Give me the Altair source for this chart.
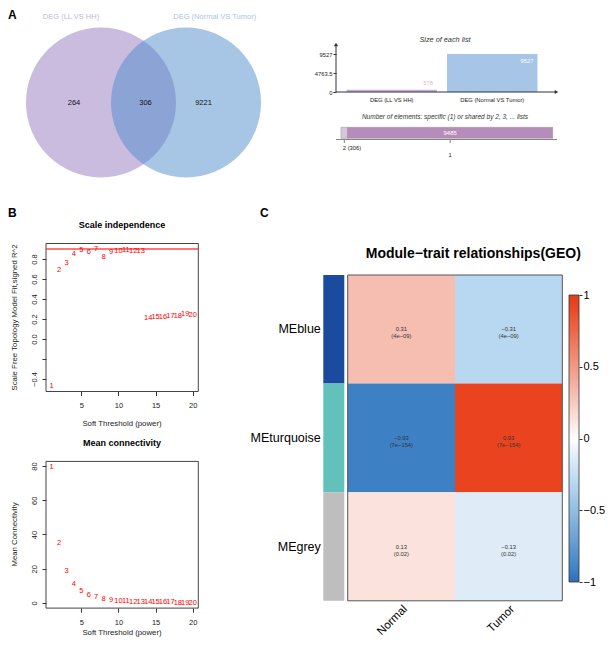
import altair as alt
import pandas as pd

FONT = "Liberation Sans"
M = 8  # page margin: reference pixel -> chart pixel
W, H = 597, 630


def px(v):
    return v - M


# ---------------- data ----------------
venn_sets = ["DEG (LL VS HH)", "DEG (Normal VS Tumor)"]
venn_regions = ["LL VS HH only", "both", "Normal VS Tumor only"]
venn_counts = [264, 306, 9221]
list_sizes = [578, 9527]
shared_levels = ["2", "1"]
shared_counts = [306, 9485]
shared_tick_labels = ["2 (306)", "1"]

powers = list(range(1, 21))
sft_r2 = [-0.47, 0.69, 0.76, 0.85, 0.89, 0.87, 0.90, 0.82, 0.87, 0.88,
          0.89, 0.88, 0.88, 0.215, 0.22, 0.22, 0.225, 0.23, 0.245, 0.24]
mean_k = [79.5, 35.2, 18.8, 11.0, 7.2, 4.9, 3.7, 2.5, 1.6, 1.2,
          1.0, 0.8, 0.6, 0.5, 0.4, 0.35, 0.3, 0.25, 0.2, 0.2]
r2_cut = 0.9

modules = ["MEblue", "MEturquoise", "MEgrey"]
module_colors = ["#1B4B9E", "#62C1BA", "#BEBEBE"]
traits = ["Normal", "Tumor"]
cor_normal = [0.31, -0.93, 0.13]
cor_tumor = [-0.31, 0.93, -0.13]
pval_normal = ["4e\u221209", "7e\u2212154", "0.02"]
pval_tumor = ["4e\u221209", "7e\u2212154", "0.02"]

# ---------------- styles / layout ----------------
venn_fill = ["#9379BD", "#4F8BCB"]
venn_title_colors = ["#C4B6DD", "#A9C4E6"]
bar_fill = ["#C3AEDD", "#A7C5E6"]
bar_label_colors = ["#C7B9E2", "#FFFFFF"]
shared_fill = ["#D9C6DD", "#B68DBA"]
cor_stops = [-1, -0.93, -0.31, -0.13, 0, 0.13, 0.31, 0.93, 1]
cor_colors = ["#2F6DB5", "#3D80C4", "#B8D8F1", "#DFECF8", "#FFFFFF",
              "#FBE2DC", "#F6BEB1", "#E9441F", "#E53A17"]
# venn geometry in radius units
venn_cx = [0.0, 85 / 75]
venn_label_x = [-0.36, 0.593, 1.367]
venn_title_x = [-0.40, 1.516]
venn_title_y = 1.14

ONE = pd.DataFrame({"_": [0]})


def note(text, x, y, size=8, weight="normal", color="black", angle=0,
         align="center", baseline="middle", style="normal"):
    return alt.Chart(ONE).mark_text(
        text=text, font=FONT, fontSize=size, fontWeight=weight, fontStyle=style,
        color=color, angle=angle, align=align, baseline=baseline
    ).encode(x=alt.value(px(x)), y=alt.value(px(y)))


def line(x1, y1, x2, y2, color="#333", width=1.0):
    return alt.Chart(ONE).mark_rule(color=color, strokeWidth=width).encode(
        x=alt.value(px(x1)), x2=alt.value(px(x2)),
        y=alt.value(px(y1)), y2=alt.value(px(y2)))


def arrow(x, y, shape):
    return alt.Chart(ONE).mark_point(shape=shape, filled=True, size=18,
                                     color="#333", opacity=1).encode(
        x=alt.value(px(x)), y=alt.value(px(y)))


def qscale(domain, r0, r1):
    return alt.Scale(domain=domain, range=[px(r0), px(r1)], nice=False, zero=False)


def r_domain(vals):
    lo, hi = min(vals), max(vals)
    d = (hi - lo) * 0.04
    return [lo - d, hi + d]


layers = []

# ---------------- panel letters ----------------
layers += [note("A", 8, 10, 12, "bold", align="left", baseline="top"),
           note("B", 8, 212.5, 12, "bold", align="left"),
           note("C", 260, 212.5, 12, "bold", align="left")]

# ---------------- A: Venn ----------------
vx = qscale([-1, 1], 26, 176)
vy = qscale([-1, 1], 177.5, 27.5)
venn_df = pd.DataFrame({"set": venn_sets, "cx": venn_cx, "cy": [0, 0]})
layers.append(alt.Chart(venn_df).mark_point(
    shape="circle", filled=True, size=150 ** 2, opacity=0.5, strokeWidth=0
).encode(
    x=alt.X("cx:Q", scale=vx, axis=None),
    y=alt.Y("cy:Q", scale=vy, axis=None),
    color=alt.Color("set:N", scale=alt.Scale(domain=venn_sets, range=venn_fill), legend=None),
))
vlab_df = pd.DataFrame({"region": venn_regions, "n": venn_counts,
                        "lx": venn_label_x, "ly": [0, 0, 0]})
layers.append(alt.Chart(vlab_df).mark_text(font=FONT, fontSize=7.5, color="#111").encode(
    x=alt.X("lx:Q", scale=vx, axis=None),
    y=alt.Y("ly:Q", scale=vy, axis=None),
    text="n:Q"))
vt_df = pd.DataFrame({"set": venn_sets, "tx": venn_title_x,
                      "ty": [venn_title_y, venn_title_y]})
layers.append(alt.Chart(vt_df).mark_text(font=FONT, fontSize=7.5).encode(
    x=alt.X("tx:Q", scale=vx, axis=None),
    y=alt.Y("ty:Q", scale=vy, axis=None),
    text="set:N",
    color=alt.Color("set:N", scale=alt.Scale(domain=venn_sets, range=venn_title_colors), legend=None)))

# ---------------- A: size of each list ----------------
sx = alt.Scale(type="band", domain=venn_sets, range=[px(341.5), px(542.5)],
               paddingInner=0.1, paddingOuter=0.05)
sy = alt.Scale(domain=[0, max(list_sizes)], range=[px(92), px(54)], nice=False, zero=True)
size_df = pd.DataFrame({"list": venn_sets, "size": list_sizes})
layers.append(alt.Chart(size_df).mark_bar().encode(
    x=alt.X("list:N", scale=sx, axis=alt.Axis(
        orient="bottom", offset=px(92) - H, ticks=False, domain=False, labelAngle=0,
        labelFont=FONT, labelFontSize=5.8, labelPadding=4, labelColor="#222", title=None)),
    y=alt.Y("size:Q", scale=sy, axis=alt.Axis(
        orient="left", offset=-px(336), values=[0, max(list_sizes) / 2, max(list_sizes)],
        labelExpr="format(datum.value, '.6~g')", tickSize=3, tickColor="#333",
        domain=False, grid=False,
        labelFont=FONT, labelFontSize=5.8, labelPadding=1, labelColor="#222", title=None)),
    y2=alt.Y2Datum(0),
    color=alt.Color("list:N", scale=alt.Scale(domain=venn_sets, range=bar_fill), legend=None),
))
for cond, dy in [("datum.size > 2000", 7), ("datum.size <= 2000", -7)]:
    layers.append(alt.Chart(size_df).transform_filter(cond).mark_text(
        font=FONT, fontSize=5.8, align="right", dx=-4, dy=dy).encode(
        x=alt.X("list:N", scale=sx, axis=None, bandPosition=1),
        y=alt.Y("size:Q", scale=sy, axis=None),
        text="size:Q",
        color=alt.Color("list:N", scale=alt.Scale(domain=venn_sets, range=bar_label_colors),
                        legend=None)))
layers += [line(336, 92, 336, 45), line(336, 92, 555, 92),
           arrow(336, 44.5, "triangle-up"), arrow(556.5, 92, "triangle-right"),
           note("Size of each list", 445, 39.5, 7.3, style="italic", color="#333")]

# ---------------- A: elements shared ----------------
elem_df = pd.DataFrame({"shared": shared_levels, "count": shared_counts,
                        "tick": shared_tick_labels, "row": "elements"})
elem_df["end"] = elem_df["count"].cumsum()
elem_df["start"] = elem_df["end"] - elem_df["count"]
elem_df["mid"] = (elem_df["start"] + elem_df["end"]) / 2
ex = qscale([0, sum(shared_counts)], 341, 552.7)
ey = alt.Scale(type="band", domain=["elements"], range=[px(127.3), px(138.3)],
               paddingInner=0, paddingOuter=0)
layers.append(alt.Chart(elem_df).mark_rect(stroke="#9A9A9A", strokeWidth=0.6).encode(
    x=alt.X("start:Q", scale=ex, axis=None), x2="end:Q",
    y=alt.Y("row:N", scale=ey, axis=None),
    color=alt.Color("shared:N", scale=alt.Scale(domain=shared_levels, range=shared_fill),
                    legend=None)))
layers.append(alt.Chart(elem_df).transform_filter("datum.count > 1000").mark_text(
    font=FONT, fontSize=6, color="white").encode(
    x=alt.X("mid:Q", scale=ex, axis=None),
    y=alt.Y("row:N", scale=ey, axis=None),
    text="count:Q"))
layers.append(line(336, 139.5, 557, 139.5, "#666", 0.8))
layers.append(alt.Chart(elem_df).mark_rule(color="#666", strokeWidth=0.8).encode(
    x=alt.X("mid:Q", scale=ex, axis=None),
    y=alt.value(px(140)), y2=alt.value(px(143))))
layers.append(alt.Chart(elem_df).transform_filter("datum.shared != '1'").mark_text(
    font=FONT, fontSize=5.8, align="left", dx=-1.5, color="#222").encode(
    x=alt.X("mid:Q", scale=ex, axis=None), y=alt.value(px(147.7)), text="tick:N"))
layers.append(alt.Chart(elem_df).transform_filter("datum.shared == '1'").mark_text(
    font=FONT, fontSize=5.8, color="#222").encode(
    x=alt.X("mid:Q", scale=ex, axis=None), y=alt.value(px(155)), text="tick:N"))
layers.append(note("Number of elements: specific (1) or shared by 2, 3, ... lists",
                   445, 117, 6.5, style="italic", color="#333"))

# ---------------- B: scale independence & mean connectivity ----------------
sft_df = pd.DataFrame({"power": powers, "r2": sft_r2, "k": mean_k})
xdom = r_domain(powers)
bx = qscale(xdom, 46, 198.3)
r2dom = r_domain(sft_r2)
kdom = r_domain(mean_k)
panels = [("r2", r2dom, 391.5, 243.5, [-0.4, -0.2, 0, 0.2, 0.4, 0.6, 0.8],
           "datum.value == -0.2 ? '' : format(datum.value, '.1f')"),
          ("k", kdom, 608.1, 461.4, [0, 20, 40, 60, 80], "format(datum.value, 'd')")]
for field, dom, ybot, ytop, vals, lexpr in panels:
    ysc = qscale(dom, ybot, ytop)
    layers.append(alt.Chart(ONE).mark_rect(fillOpacity=0, stroke="#444", strokeWidth=1).encode(
        x=alt.XDatum(xdom[0], scale=bx, axis=None), x2=alt.X2Datum(xdom[1]),
        y=alt.YDatum(dom[0], scale=ysc, axis=None), y2=alt.Y2Datum(dom[1])))
    if field == "r2":
        layers.append(alt.Chart(ONE).mark_rule(color="#FF2A2A", strokeWidth=1.5, opacity=0.85).encode(
            x=alt.XDatum(xdom[0], scale=bx, axis=None), x2=alt.X2Datum(xdom[1]),
            y=alt.YDatum(r2_cut, scale=ysc, axis=None)))
    layers.append(alt.Chart(sft_df).mark_text(font=FONT, fontSize=7.5, color="#FF0000").encode(
        x=alt.X("power:Q", scale=bx, axis=alt.Axis(
            orient="bottom", offset=px(ybot) - H, values=[5, 10, 15, 20], tickSize=4,
            tickColor="#333", domain=False, grid=False, labelFont=FONT, labelFontSize=7.5,
            labelPadding=6, labelColor="#222", title=None)),
        y=alt.Y(f"{field}:Q", scale=ysc, axis=alt.Axis(
            orient="left", offset=-px(46), values=vals, labelExpr=lexpr, tickSize=4,
            tickColor="#333", domain=False, grid=False, labelFont=FONT, labelFontSize=7.5,
            labelAngle=270, labelAlign="center", labelBaseline="bottom", labelPadding=4,
            labelColor="#222", title=None)),
        text="power:Q"))
layers += [
    note("Scale independence", 122, 224.5, 9, "bold"),
    note("Scale Free Topology Model Fit,signed R^2", 14.5, 317.5, 7.8, angle=270, color="#222"),
    note("Soft Threshold (power)", 122, 424.3, 7.8, color="#222"),
    note("Mean connectivity", 122, 442.7, 9, "bold"),
    note("Mean Connectivity", 14.5, 534.5, 7.8, angle=270, color="#222"),
    note("Soft Threshold (power)", 122, H + M - 1, 7.8, color="#222", baseline="bottom"),
]

# ---------------- C: module-trait heatmap ----------------
hm_df = pd.DataFrame({
    "module": modules * 2,
    "trait": [traits[0]] * 3 + [traits[1]] * 3,
    "cor": cor_normal + cor_tumor,
    "p": pval_normal + pval_tumor,
})
hm_df["label"] = [f"{c:.2f}".replace("-", "\u2212") + f"\n({p})"
                  for c, p in zip(hm_df["cor"], hm_df["p"])]
hx = alt.Scale(type="band", domain=traits, range=[px(347.7), px(562.3)],
               paddingInner=0, paddingOuter=0)
hy = alt.Scale(type="band", domain=modules, range=[px(275), px(600.8)],
               paddingInner=0, paddingOuter=0)
layers.append(alt.Chart(hm_df).mark_rect().encode(
    x=alt.X("trait:N", scale=hx, axis=alt.Axis(
        orient="bottom", offset=px(600.8) - H, ticks=False, domain=False, labelAngle=-45,
        labelAlign="right", labelBaseline="top", labelPadding=2, labelFont=FONT,
        labelFontSize=11.5, labelColor="black", title=None)),
    y=alt.Y("module:N", scale=hy, axis=None),
    color=alt.Color("cor:Q", scale=alt.Scale(domain=cor_stops, range=cor_colors, interpolate="rgb"),
                    legend=alt.Legend(orient="none", legendX=px(569), legendY=px(295),
                                      direction="vertical", gradientLength=287,
                                      gradientThickness=10, title=None, padding=0,
                                      values=[-1, -0.5, 0, 0.5, 1], labelExpr="''",
                                      gradientStrokeColor="#333", gradientStrokeWidth=0.8)),
))
layers.append(alt.Chart(hm_df).mark_text(font=FONT, fontSize=5.8, lineHeight=7,
                                         lineBreak="\n", color="#333").encode(
    x=alt.X("trait:N", scale=hx, axis=None),
    y=alt.Y("module:N", scale=hy, axis=None),
    text="label:N"))
layers.append(alt.Chart(ONE).mark_rect(fillOpacity=0, stroke="#555", strokeWidth=1).encode(
    x=alt.value(px(347.7)), x2=alt.value(px(562.3)),
    y=alt.value(px(275)), y2=alt.value(px(600.8))))
strip_df = pd.DataFrame({"module": modules})
layers.append(alt.Chart(strip_df).mark_rect().encode(
    x=alt.value(px(323.3)), x2=alt.value(px(344.3)),
    y=alt.Y("module:N", scale=hy, axis=alt.Axis(
        orient="left", offset=-px(323.3), ticks=False, domain=False, labelFont=FONT,
        labelFontSize=12.5, labelPadding=3, labelColor="black", title=None)),
    color=alt.Color("module:N", scale=alt.Scale(domain=modules, range=module_colors), legend=None)))
# colour bar ticks and labels
layers.append(alt.Chart(hm_df).mark_point(opacity=0).encode(
    y=alt.Y("cor:Q", scale=qscale([-1, 1], 582, 295), axis=alt.Axis(
        orient="right", offset=px(579) - W, values=[-1, -0.5, 0, 0.5, 1], format="~g",
        tickSize=3, tickColor="#333", domain=False, grid=False, labelFont=FONT,
        labelFontSize=11, labelPadding=1, labelColor="black", title=None))))
layers.append(note("Module\u2212trait relationships(GEO)", 473.3, 254.3, 14, "bold"))

chart = alt.layer(*layers).properties(
    width=W, height=H, autosize=alt.AutoSizeParams(type="none"), padding=0
).resolve_scale(x="independent", y="independent", color="independent").configure_view(stroke=None)

chart.save("out.html", embed_options={"renderer": "svg", "actions": False})
